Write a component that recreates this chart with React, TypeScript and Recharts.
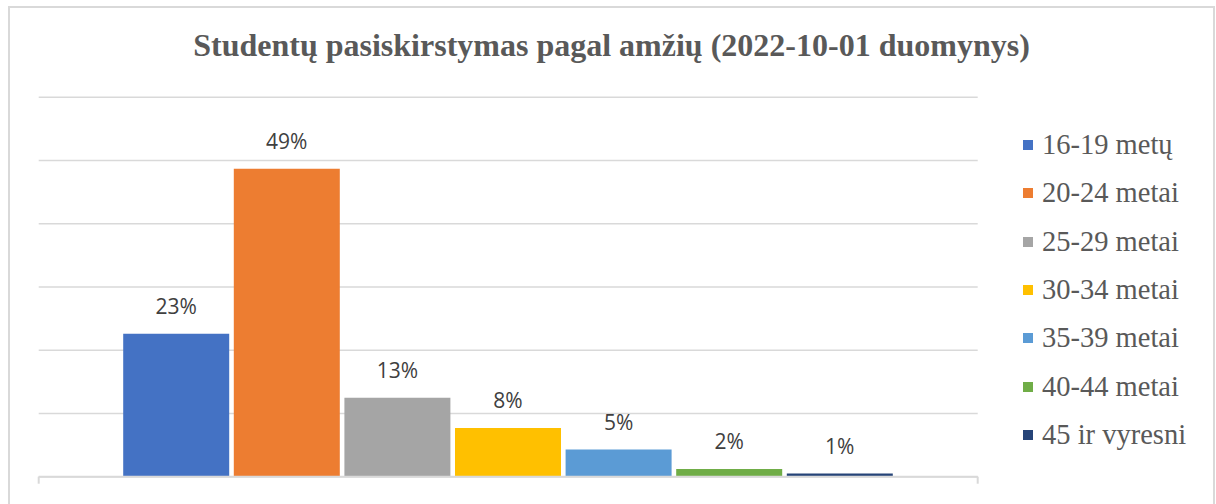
import { BarChart, Bar, XAxis, YAxis, CartesianGrid, Legend, LabelList } from "recharts";

// one category, each age group is its own series (as in the Excel original)
const ageGroups = [
  "16-19 metų",
  "20-24 metai",
  "25-29 metai",
  "30-34 metai",
  "35-39 metai",
  "40-44 metai",
  "45 ir vyresni",
];
const shares = [22.6, 48.7, 12.5, 7.7, 4.3, 1.2, 0.5];
const shareLabels = ["23%", "49%", "13%", "8%", "5%", "2%", "1%"];
const groupColors = ["#4472c4", "#ed7d31", "#a5a5a5", "#ffc000", "#5b9bd5", "#70ad47", "#264478"];
const yTicks = [0, 10, 20, 30, 40, 50, 60];
const categoryName = "Studentai";

const chartData = [
  ageGroups.reduce(
    (row: Record<string, string | number>, _g, i) => {
      row["g" + i] = shares[i];
      return row;
    },
    { name: categoryName }
  ),
];

const GRID = "#d9d9d9";

// tick marks at both ends of the category band, like Excel
const BandEdgeTick = (props: any) => {
  const { x, y, payload } = props;
  const half = payload && typeof payload.offset === "number" ? payload.offset : 0;
  if (!half) return null;
  return (
    <g>
      <line x1={x - half} x2={x - half} y1={y} y2={y + 7} stroke={GRID} strokeWidth={2} />
      <line x1={x + half} x2={x + half} y1={y} y2={y + 7} stroke={GRID} strokeWidth={2} />
    </g>
  );
};

const renderLegend = (props: any) => (
  <ul style={{ listStyle: "none", margin: 0, padding: 0 }}>
    {(props.payload || []).map((entry: any) => (
      <li
        key={entry.value}
        style={{ height: 48.33, display: "flex", alignItems: "center" }}
      >
        <span
          style={{
            display: "inline-block",
            width: 10,
            height: 10,
            background: entry.color,
            marginRight: 9,
          }}
        />
        <span
          style={{
            fontFamily: "'Liberation Serif', 'Times New Roman', serif",
            fontSize: 28.5,
            lineHeight: "28px",
            color: "#595959",
            whiteSpace: "nowrap",
          }}
        >
          {entry.value}
        </span>
      </li>
    ))}
  </ul>
);

export default function App() {
  return (
    <div
      style={{
        position: "absolute",
        left: 0,
        top: 0,
        width: 1216,
        height: 504,
        overflow: "hidden",
        background: "#fff",
      }}
    >
      <div
        style={{
          position: "absolute",
          left: 8,
          top: 6,
          width: 1207,
          height: 520,
          border: `2px solid ${GRID}`,
          boxSizing: "border-box",
        }}
      />
      <div
        style={{
          position: "absolute",
          left: 9,
          width: 1205,
          top: 29,
          textAlign: "center",
          fontFamily: "'Liberation Serif', 'Times New Roman', serif",
          fontWeight: "bold",
          fontSize: 32,
          lineHeight: "32px",
          color: "#595959",
          whiteSpace: "nowrap",
        }}
      >
        Studentų pasiskirstymas pagal amžių (2022-10-01 duomynys)
      </div>
      <div style={{ position: "absolute", left: 0, top: 0 }}>
        <BarChart
          width={1216}
          height={504}
          data={chartData}
          margin={{ top: 97.3, right: 238.3, bottom: 0, left: 38.7 }}
          barCategoryGap={84.5}
          barGap={4.6}
        >
          <CartesianGrid vertical={false} stroke={GRID} strokeWidth={1.5} />
          <XAxis
            dataKey="name"
            height={27.3}
            axisLine={{ stroke: GRID, strokeWidth: 2 }}
            tickLine={false}
            tickSize={0}
            tickMargin={0}
            tick={<BandEdgeTick />}
          />
          <YAxis hide domain={[0, 60]} ticks={yTicks} />
          <Legend
            layout="vertical"
            align="center"
            verticalAlign="middle"
            content={renderLegend}
            wrapperStyle={{ left: 1023, top: 121, width: 190 }}
          />
          {ageGroups.map((group, i) => (
            <Bar
              key={group}
              dataKey={"g" + i}
              name={group}
              fill={groupColors[i]}
              isAnimationActive={false}
            >
              <LabelList
                dataKey={"g" + i}
                content={(p: any) => (
                  <text
                    x={Number(p.x) + Number(p.width) / 2}
                    y={Number(p.y) - 20}
                    textAnchor="middle"
                    fontFamily="'Open Sans', sans-serif"
                    fontSize={21}
                    fill="#404040"
                  >
                    {shareLabels[i]}
                  </text>
                )}
              />
            </Bar>
          ))}
        </BarChart>
      </div>
    </div>
  );
}
